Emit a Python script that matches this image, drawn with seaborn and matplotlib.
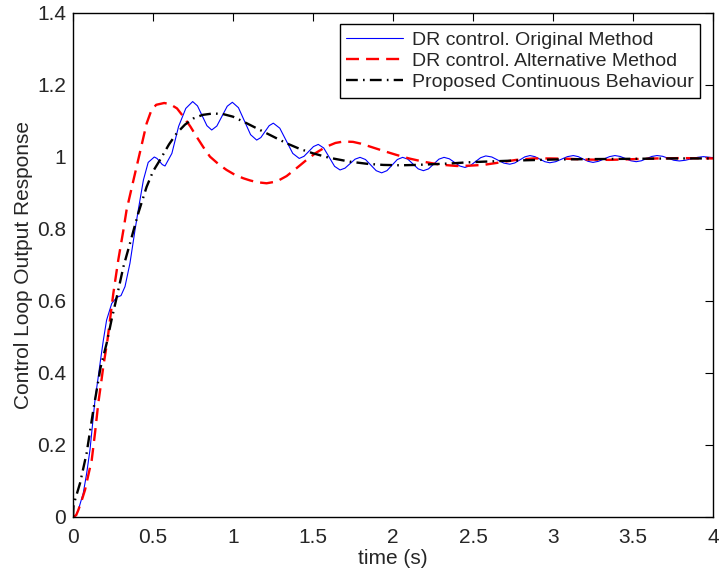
import numpy as np
import pandas as pd
import matplotlib
matplotlib.use("Agg")
import matplotlib.pyplot as plt
import seaborn as sns
from matplotlib.ticker import FuncFormatter

# ---------------- data ----------------
blue_t = [0.0, 0.0125, 0.033, 0.064, 0.085, 0.106, 0.1375, 0.158, 0.172, 0.19,
          0.21, 0.242, 0.273, 0.30, 0.325, 0.356, 0.3875, 0.408, 0.44, 0.47, 0.508,
          0.525, 0.5415, 0.558, 0.575,
          0.618, 0.66, 0.705, 0.748,
          0.778, 0.8075, 0.837, 0.867,
          0.899, 0.9315, 0.964, 0.996,
          1.034, 1.072, 1.110, 1.148,
          1.174, 1.2, 1.226, 1.252,
          1.2925, 1.333, 1.3735, 1.414,
          1.444, 1.4735, 1.503, 1.533,
          1.567, 1.601, 1.635, 1.669,
          1.700, 1.7315, 1.763, 1.794,
          1.828, 1.8615, 1.895, 1.929,
          1.962, 1.9945, 2.027, 2.060,
          2.0925, 2.125, 2.1575, 2.190,
          2.222, 2.2545, 2.287, 2.319,
          2.352, 2.3845, 2.417, 2.450,
          2.4825, 2.515, 2.5475, 2.580,
          2.6175, 2.655, 2.6925, 2.730,
          2.7615, 2.793, 2.8245, 2.856,
          2.887, 2.918, 2.949, 2.980,
          3.017, 3.0535, 3.090, 3.127,
          3.158, 3.1885, 3.219, 3.250,
          3.284, 3.3185, 3.353, 3.387,
          3.420, 3.4535, 3.487, 3.520,
          3.5525, 3.585, 3.6175, 3.650,
          3.685, 3.72, 3.755, 3.790,
          3.8275, 3.865, 3.9025, 3.940, 4.0]
blue_y = [0.0, 0.0, 0.019, 0.066, 0.12, 0.186, 0.325, 0.39, 0.436, 0.492,
          0.547, 0.593, 0.610, 0.615, 0.640, 0.705, 0.797, 0.853, 0.936, 0.985, 1.000,
          0.996, 0.9875, 0.979, 0.975,
          1.010, 1.085, 1.135, 1.154,
          1.142, 1.1145, 1.087, 1.075,
          1.086, 1.1135, 1.141, 1.152,
          1.137, 1.0995, 1.062, 1.047,
          1.054, 1.0705, 1.087, 1.094,
          1.080, 1.045, 1.010, 0.996,
          1.002, 1.0155, 1.029, 1.035,
          1.025, 0.9995, 0.974, 0.964,
          0.969, 0.9815, 0.994, 0.999,
          0.993, 0.9775, 0.962, 0.956,
          0.962, 0.9775, 0.993, 0.999,
          0.994, 0.9805, 0.967, 0.962,
          0.967, 0.9805, 0.994, 0.999,
          0.995, 0.985, 0.975, 0.971,
          0.976, 0.987, 0.998, 1.003,
          1.000, 0.9915, 0.983, 0.980,
          0.9835, 0.992, 1.0005, 1.004,
          1.001, 0.994, 0.987, 0.984,
          0.987, 0.994, 1.001, 1.004,
          1.001, 0.9945, 0.988, 0.985,
          0.988, 0.9945, 1.001, 1.004,
          1.0015, 0.9955, 0.9895, 0.987,
          0.9895, 0.9955, 1.0015, 1.004,
          1.002, 0.9965, 0.991, 0.989,
          0.991, 0.995, 0.999, 1.001, 0.998]

red_t = [0.0, 0.02, 0.033, 0.05, 0.075, 0.095, 0.117, 0.138, 0.158, 0.175, 0.19,
         0.215, 0.231, 0.252, 0.283, 0.315, 0.335, 0.377, 0.419, 0.46, 0.49, 0.52,
         0.57, 0.606, 0.65, 0.69, 0.733, 0.773, 0.815, 0.856, 0.91, 0.96, 1.01,
         1.064, 1.106, 1.15, 1.21, 1.273, 1.335, 1.40, 1.46, 1.52, 1.58, 1.64,
         1.69, 1.75, 1.80, 1.856, 1.94, 2.02, 2.10, 2.19, 2.29, 2.40, 2.48,
         2.564, 2.67, 2.77, 2.88, 2.98, 3.10, 3.20, 3.35, 3.50, 3.65, 3.80, 4.0]
red_y = [0.0, 0.005, 0.019, 0.04, 0.075, 0.115, 0.158, 0.235, 0.316, 0.37, 0.42,
         0.49, 0.547, 0.621, 0.714, 0.797, 0.853, 0.934, 1.014, 1.093, 1.13, 1.145,
         1.150, 1.147, 1.135, 1.112, 1.085, 1.056, 1.027, 1.001, 0.98, 0.964, 0.951,
         0.941, 0.935, 0.930, 0.927, 0.932, 0.947, 0.97, 0.992, 1.012, 1.028, 1.039,
         1.043, 1.042, 1.037, 1.029, 1.017, 1.006, 0.996, 0.987, 0.979, 0.975, 0.976,
         0.978, 0.985, 0.992, 0.996, 0.996, 0.995, 0.993, 0.992, 0.994, 0.996, 0.997, 0.996]

black_t = [0.0, 0.003, 0.0125, 0.044, 0.085, 0.127, 0.172, 0.21, 0.242, 0.273,
           0.315, 0.356, 0.408, 0.46, 0.50, 0.544, 0.60, 0.648, 0.70, 0.752, 0.81,
           0.877, 0.94, 1.0, 1.08, 1.169, 1.25, 1.335, 1.42, 1.502, 1.60, 1.731,
           1.84, 1.94, 2.05, 2.148, 2.25, 2.356, 2.46, 2.564, 2.75, 3.0, 3.19,
           3.5, 3.75, 4.0]
black_y = [0.0, 0.03, 0.047, 0.094, 0.177, 0.297, 0.415, 0.482, 0.55, 0.61,
           0.695, 0.760, 0.844, 0.917, 0.96, 0.992, 1.035, 1.066, 1.09, 1.107, 1.117,
           1.121, 1.119, 1.112, 1.095, 1.075, 1.057, 1.038, 1.022, 1.010, 0.998, 0.987,
           0.981, 0.978, 0.977, 0.978, 0.98, 0.982, 0.985, 0.987, 0.99, 0.993, 0.994,
           0.995, 0.996, 0.996]

labels = ["DR control. Original Method",
          "DR control. Alternative Method",
          "Proposed Continuous Behaviour"]
x_ticks = [0, 0.5, 1, 1.5, 2, 2.5, 3, 3.5, 4]
y_ticks = [0, 0.2, 0.4, 0.6, 0.8, 1.0, 1.2, 1.4]

# ---------------- style ----------------
sns.set_style("white")
plt.rcParams["font.family"] = ["Liberation Sans", "DejaVu Sans"]
plt.rcParams["xtick.direction"] = "in"
plt.rcParams["ytick.direction"] = "in"

fig = plt.figure(figsize=(7.19, 5.70), dpi=100)
ax = fig.add_axes([73 / 719, 53 / 570, 640 / 719, 504 / 570])

df_b = pd.DataFrame({"t": blue_t, "y": blue_y})
df_r = pd.DataFrame({"t": red_t, "y": red_y})
df_k = pd.DataFrame({"t": black_t, "y": black_y})

sns.lineplot(data=df_b, x="t", y="y", ax=ax, color=(0, 0, 1), linewidth=0.8,
             estimator=None, sort=False, label=labels[0])
sns.lineplot(data=df_r, x="t", y="y", ax=ax, color=(1, 0, 0), linewidth=1.7,
             estimator=None, sort=False, label=labels[1],
             linestyle=(0, (5.5, 3)))
sns.lineplot(data=df_k, x="t", y="y", ax=ax, color="black", linewidth=1.7,
             estimator=None, sort=False, label=labels[2],
             linestyle=(0, (5, 2.2, 0.7, 2.2)))

ax.set_xlim(0, 4)
ax.set_ylim(0, 1.4)
ax.set_xticks(x_ticks)
ax.set_yticks(y_ticks)
fmt = FuncFormatter(lambda v, p: f"{v:g}")
ax.xaxis.set_major_formatter(fmt)
ax.yaxis.set_major_formatter(fmt)
ax.tick_params(axis="both", which="major", labelsize=15, length=6, width=0.8,
               color="black", top=True, right=True, direction="in")
ax.tick_params(axis="x", pad=8)
ax.tick_params(axis="y", pad=5)
for s in ax.spines.values():
    s.set_visible(True)
    s.set_color("black")
    s.set_linewidth(1.0)

ax.set_xlabel("time (s)", fontsize=15, labelpad=1)
ax.set_ylabel("Control Loop Output Response", fontsize=15, labelpad=3)

leg = ax.legend(loc="upper right", bbox_to_anchor=(0.98, 0.978), borderaxespad=0,
                fontsize=14, frameon=True, fancybox=False, handlelength=2.9,
                handletextpad=0.45, labelspacing=0.18, borderpad=0.35)
leg.get_frame().set_edgecolor("black")
leg.get_frame().set_linewidth(1.0)
leg.get_frame().set_alpha(1)

fig.savefig("out.png", dpi=100)
